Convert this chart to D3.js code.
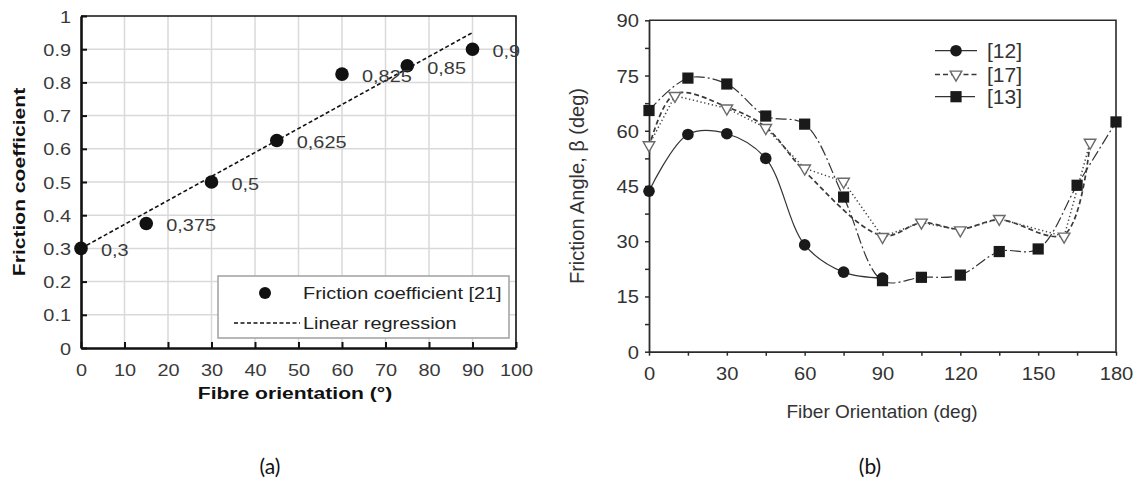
<!DOCTYPE html>
<html>
<head>
<meta charset="utf-8">
<script src="https://cdn.jsdelivr.net/npm/d3@7"></script>
<style>
  html, body { margin: 0; padding: 0; background: #fff; }
  svg { display: block; }
</style>
</head>
<body>
<svg id="fig" width="1148" height="483"></svg>
<script>
// ---- (a) friction coefficient vs fibre orientation ----
const fibreOrient = [0, 15, 30, 45, 60, 75, 90];
const frictionCoef = [0.3, 0.375, 0.5, 0.625, 0.825, 0.85, 0.9];
const coefLabels = ["0,3", "0,375", "0,5", "0,625", "0,825", "0,85", "0,9"];
const regOrient = [0, 90];
const regCoef = [0.30, 0.95];
const aXTicks = [0, 10, 20, 30, 40, 50, 60, 70, 80, 90, 100];
const aXTickLabels = ["0", "10", "20", "30", "40", "50", "60", "70", "80", "90", "100"];
const aYTicks = [0, 0.1, 0.2, 0.3, 0.4, 0.5, 0.6, 0.7, 0.8, 0.9, 1];
const aYTickLabels = ["0", "0.1", "0.2", "0.3", "0.4", "0.5", "0.6", "0.7", "0.8", "0.9", "1"];

// ---- (b) friction angle vs fiber orientation ----
const orient12 = [0, 15, 30, 45, 60, 75, 90];
const angle12 = [43.6, 59.0, 59.2, 52.5, 29.0, 21.6, 20.0];
const orient17 = [0, 10, 30, 45, 60, 75, 90, 105, 120, 135, 160, 170];
const angle17 = [56.1, 69.5, 66.1, 60.8, 49.8, 46.2, 31.2, 35.1, 33.0, 36.1, 31.3, 56.8];
const trendOrient17 = [0, 10, 30, 45, 60, 90, 105, 120, 135, 160, 170];
const trendAngle17 = [55.5, 70.0, 66.5, 61.0, 49.0, 31.5, 35.0, 33.3, 35.8, 31.8, 56.8];
const orient13 = [0, 15, 30, 45, 60, 75, 90, 105, 120, 135, 150, 165, 180];
const angle13 = [65.5, 74.3, 72.7, 64.0, 61.8, 42.0, 19.3, 20.2, 20.8, 27.2, 27.9, 45.2, 62.4];
const bXTicks = [0, 15, 30, 45, 60, 75, 90, 105, 120, 135, 150, 165, 180];
const bXTickLabels = ["0", "", "30", "", "60", "", "90", "", "120", "", "150", "", "180"];
const bYTicks = [0, 7.5, 15, 22.5, 30, 37.5, 45, 52.5, 60, 67.5, 75, 82.5, 90];
const bYTickLabels = ["0", "", "15", "", "30", "", "45", "", "60", "", "75", "", "90"];
const legendNames = ["[12]", "[17]", "[13]"];

const svg = d3.select("#fig");
const ARIAL = "'Liberation Sans', Arial, sans-serif";

// widen glyphs along the text direction, keeping the anchor point fixed
function widen(sel, sx) {
  sel.each(function () {
    const t = d3.select(this);
    const x = +t.attr("x") || 0;
    t.attr("x", 0).attr("transform", `translate(${x},0) scale(${sx},1)`);
  });
}

// ================= panel (a) =================
const ax = d3.scaleLinear().domain([0, 100]).range([81, 516]);
const ay = d3.scaleLinear().domain([0, 1]).range([348, 16]);
const ga = svg.append("g");
const A_SX = 1.17;

// grid
ga.append("g").selectAll("line").data(aXTicks.slice(1, -1)).join("line")
  .attr("x1", d => ax(d)).attr("x2", d => ax(d))
  .attr("y1", ay(0)).attr("y2", ay(1))
  .attr("stroke", "#d9d9d9").attr("stroke-width", 1.5);
ga.append("g").selectAll("line").data(aYTicks.slice(1, -1)).join("line")
  .attr("x1", ax(0)).attr("x2", ax(100))
  .attr("y1", d => ay(d)).attr("y2", d => ay(d))
  .attr("stroke", "#d9d9d9").attr("stroke-width", 1.5);

// top / right frame
ga.append("path")
  .attr("d", `M${ax(0)},${ay(1)}H${ax(100)}V${ay(0)}`)
  .attr("fill", "none").attr("stroke", "#111").attr("stroke-width", 1.6);

// axes
const aXAxis = ga.append("g").attr("transform", `translate(0,${ay(0)})`)
  .call(d3.axisBottom(ax).tickValues(aXTicks).tickSize(-6).tickSizeOuter(0).tickPadding(16)
    .tickFormat((d, i) => aXTickLabels[i]));
const aYAxis = ga.append("g").attr("transform", `translate(${ax(0)},0)`)
  .call(d3.axisLeft(ay).tickValues(aYTicks).tickSize(-6).tickSizeOuter(0).tickPadding(10)
    .tickFormat((d, i) => aYTickLabels[i]));
[aXAxis, aYAxis].forEach(g => {
  g.select(".domain").attr("stroke", "#111").attr("stroke-width", 2.6);
  g.selectAll(".tick line").attr("stroke", "#111").attr("stroke-width", 2);
  g.selectAll(".tick text").attr("font-family", ARIAL).attr("font-size", 17).attr("fill", "#3a3a3a");
  widen(g.selectAll(".tick text"), A_SX);
});
aYAxis.selectAll(".tick text").attr("dy", "0.36em");

// regression line
ga.append("path")
  .datum(regOrient.map((d, i) => [d, regCoef[i]]))
  .attr("d", d3.line().x(d => ax(d[0])).y(d => ay(d[1])))
  .attr("fill", "none").attr("stroke", "#111").attr("stroke-width", 1.6)
  .attr("stroke-dasharray", "4,2.5");

// points and labels
ga.append("g").selectAll("circle").data(fibreOrient).join("circle")
  .attr("cx", d => ax(d)).attr("cy", (d, i) => ay(frictionCoef[i]))
  .attr("r", 6.8).attr("fill", "#111");
ga.append("g").selectAll("text").data(fibreOrient).join("text")
  .attr("x", d => ax(d) + 20).attr("y", (d, i) => ay(frictionCoef[i]) + 8)
  .attr("font-family", ARIAL).attr("font-size", 17).attr("fill", "#3a3a3a")
  .text((d, i) => coefLabels[i])
  .call(widen, A_SX);

// legend
const la = ga.append("g");
la.append("rect").attr("x", 218).attr("y", 276).attr("width", 291).attr("height", 62)
  .attr("fill", "#fff").attr("stroke", "#a6a6a6").attr("stroke-width", 1.6);
la.append("circle").attr("cx", 265).attr("cy", 293).attr("r", 6).attr("fill", "#111");
la.append("line").attr("x1", 234).attr("x2", 300).attr("y1", 323).attr("y2", 323)
  .attr("stroke", "#111").attr("stroke-width", 1.6).attr("stroke-dasharray", "4,2.5");
la.append("text").attr("x", 303).attr("y", 299).attr("font-family", ARIAL).attr("font-size", 17)
  .attr("fill", "#222").text("Friction coefficient [21]").call(widen, A_SX);
la.append("text").attr("x", 303).attr("y", 329).attr("font-family", ARIAL).attr("font-size", 17)
  .attr("fill", "#222").text("Linear regression").call(widen, A_SX);

// titles
ga.append("text").attr("transform", "translate(295,399) scale(1.24,1)").attr("text-anchor", "middle")
  .attr("font-family", ARIAL).attr("font-size", 17).attr("font-weight", "bold").attr("fill", "#111")
  .text("Fibre orientation (°)");
ga.append("text").attr("transform", "translate(25,182) rotate(-90) scale(1.24,1)").attr("text-anchor", "middle")
  .attr("font-family", ARIAL).attr("font-size", 17).attr("font-weight", "bold").attr("fill", "#111")
  .text("Friction coefficient");
svg.append("text").attr("x", 270).attr("y", 474).attr("text-anchor", "middle")
  .attr("font-family", "Lato, 'Open Sans', sans-serif").attr("font-size", 21).attr("fill", "#111")
  .text("(a)");

// ================= panel (b) =================
const bx = d3.scaleLinear().domain([0, 180]).range([649, 1116]);
const by = d3.scaleLinear().domain([0, 90]).range([351.7, 20.3]);
const gb = svg.append("g");
const INK = "#2b2b2b";

gb.append("path")
  .attr("d", `M${bx(0)},${by(90)}H${bx(180)}V${by(0)}`)
  .attr("fill", "none").attr("stroke", INK).attr("stroke-width", 1.6);

const bXAxis = gb.append("g").attr("transform", `translate(0,${by(0)})`)
  .call(d3.axisBottom(bx).tickValues(bXTicks).tickSize(4).tickSizeOuter(0).tickPadding(12)
    .tickFormat((d, i) => bXTickLabels[i]));
const bYAxis = gb.append("g").attr("transform", `translate(${bx(0)},0)`)
  .call(d3.axisLeft(by).tickValues(bYTicks).tickSize(4).tickSizeOuter(0).tickPadding(6)
    .tickFormat((d, i) => bYTickLabels[i]));
[bXAxis, bYAxis].forEach(g => {
  g.select(".domain").attr("stroke", INK).attr("stroke-width", 1.8);
  g.selectAll(".tick line").attr("stroke", INK).attr("stroke-width", 1.5);
  g.selectAll(".tick text").attr("font-family", ARIAL).attr("font-size", 18).attr("fill", "#333");
  widen(g.selectAll(".tick text"), 1.12);
});
bYAxis.selectAll(".tick text").attr("dy", "0.36em");

const smooth = d3.line().curve(d3.curveCatmullRom.alpha(0.5)).x(d => bx(d[0])).y(d => by(d[1]));
const straight = d3.line().x(d => bx(d[0])).y(d => by(d[1]));
const pts = (xs, ys) => xs.map((d, i) => [d, ys[i]]);

// [13] dash-dot smooth curve
gb.append("path").datum(pts(orient13, angle13)).attr("d", smooth)
  .attr("fill", "none").attr("stroke", "#333").attr("stroke-width", 1.2)
  .attr("stroke-dasharray", "11,3,2,3");
// [17] smooth dashed trend and dotted connector
gb.append("path").datum(pts(trendOrient17, trendAngle17)).attr("d", smooth)
  .attr("fill", "none").attr("stroke", "#3a3a3a").attr("stroke-width", 1.7)
  .attr("stroke-dasharray", "5,3");
gb.append("path").datum(pts(orient17, angle17)).attr("d", straight)
  .attr("fill", "none").attr("stroke", "#444").attr("stroke-width", 1.5)
  .attr("stroke-dasharray", "1.3,2.6");
// [12] solid smooth curve
gb.append("path").datum(pts(orient12, angle12)).attr("d", smooth)
  .attr("fill", "none").attr("stroke", "#333").attr("stroke-width", 1.2);

// markers
const tri = d3.symbol().type(d3.symbolTriangle).size(58);
const drawTri = (sel) => sel.append("path").attr("d", tri)
  .attr("fill", "#fff").attr("stroke", "#6a6a6a").attr("stroke-width", 1.4);
gb.append("g").selectAll("g").data(pts(orient17, angle17)).join("g")
  .attr("transform", d => `translate(${bx(d[0])},${by(d[1])}) rotate(180)`)
  .call(drawTri);
gb.append("g").selectAll("rect").data(pts(orient13, angle13)).join("rect")
  .attr("x", d => bx(d[0]) - 5.6).attr("y", d => by(d[1]) - 5.6)
  .attr("width", 11.2).attr("height", 11.2).attr("fill", "#1a1a1a");
gb.append("g").selectAll("circle").data(pts(orient12, angle12)).join("circle")
  .attr("cx", d => bx(d[0])).attr("cy", d => by(d[1])).attr("r", 5.8).attr("fill", "#1a1a1a");

// legend
const lb = gb.append("g");
const legY = [50.7, 74.5, 96.7];
lb.append("line").attr("x1", 935).attr("x2", 977).attr("y1", legY[0]).attr("y2", legY[0])
  .attr("stroke", "#333").attr("stroke-width", 1.3);
lb.append("circle").attr("cx", 956).attr("cy", legY[0]).attr("r", 5.8).attr("fill", "#1a1a1a");
lb.append("line").attr("x1", 935).attr("x2", 977).attr("y1", legY[1]).attr("y2", legY[1])
  .attr("stroke", "#3a3a3a").attr("stroke-width", 1.4).attr("stroke-dasharray", "5,3,5,3,5,3,1.5,3");
lb.append("g").attr("transform", `translate(956,${legY[1]}) rotate(180)`).call(drawTri);
lb.append("line").attr("x1", 935).attr("x2", 975).attr("y1", legY[2]).attr("y2", legY[2])
  .attr("stroke", "#333").attr("stroke-width", 1.3);
lb.append("rect").attr("x", 950.4).attr("y", legY[2] - 5.6).attr("width", 11.2).attr("height", 11.2)
  .attr("fill", "#1a1a1a");
lb.selectAll("text").data(legendNames).join("text")
  .attr("x", 987).attr("y", (d, i) => legY[i] + 7.5)
  .attr("font-family", ARIAL).attr("font-size", 21).attr("fill", "#333").text(d => d);

// titles
gb.append("text").attr("x", 882).attr("y", 418).attr("text-anchor", "middle")
  .attr("font-family", ARIAL).attr("font-size", 19).attr("fill", "#333")
  .text("Fiber Orientation (deg)");
gb.append("text").attr("transform", "translate(584,186) rotate(-90)").attr("text-anchor", "middle")
  .attr("font-family", ARIAL).attr("font-size", 20).attr("fill", "#333")
  .text("Friction Angle, β (deg)");
svg.append("text").attr("x", 870).attr("y", 474).attr("text-anchor", "middle")
  .attr("font-family", "Lato, 'Open Sans', sans-serif").attr("font-size", 21).attr("fill", "#111")
  .text("(b)");
</script>
</body>
</html>
